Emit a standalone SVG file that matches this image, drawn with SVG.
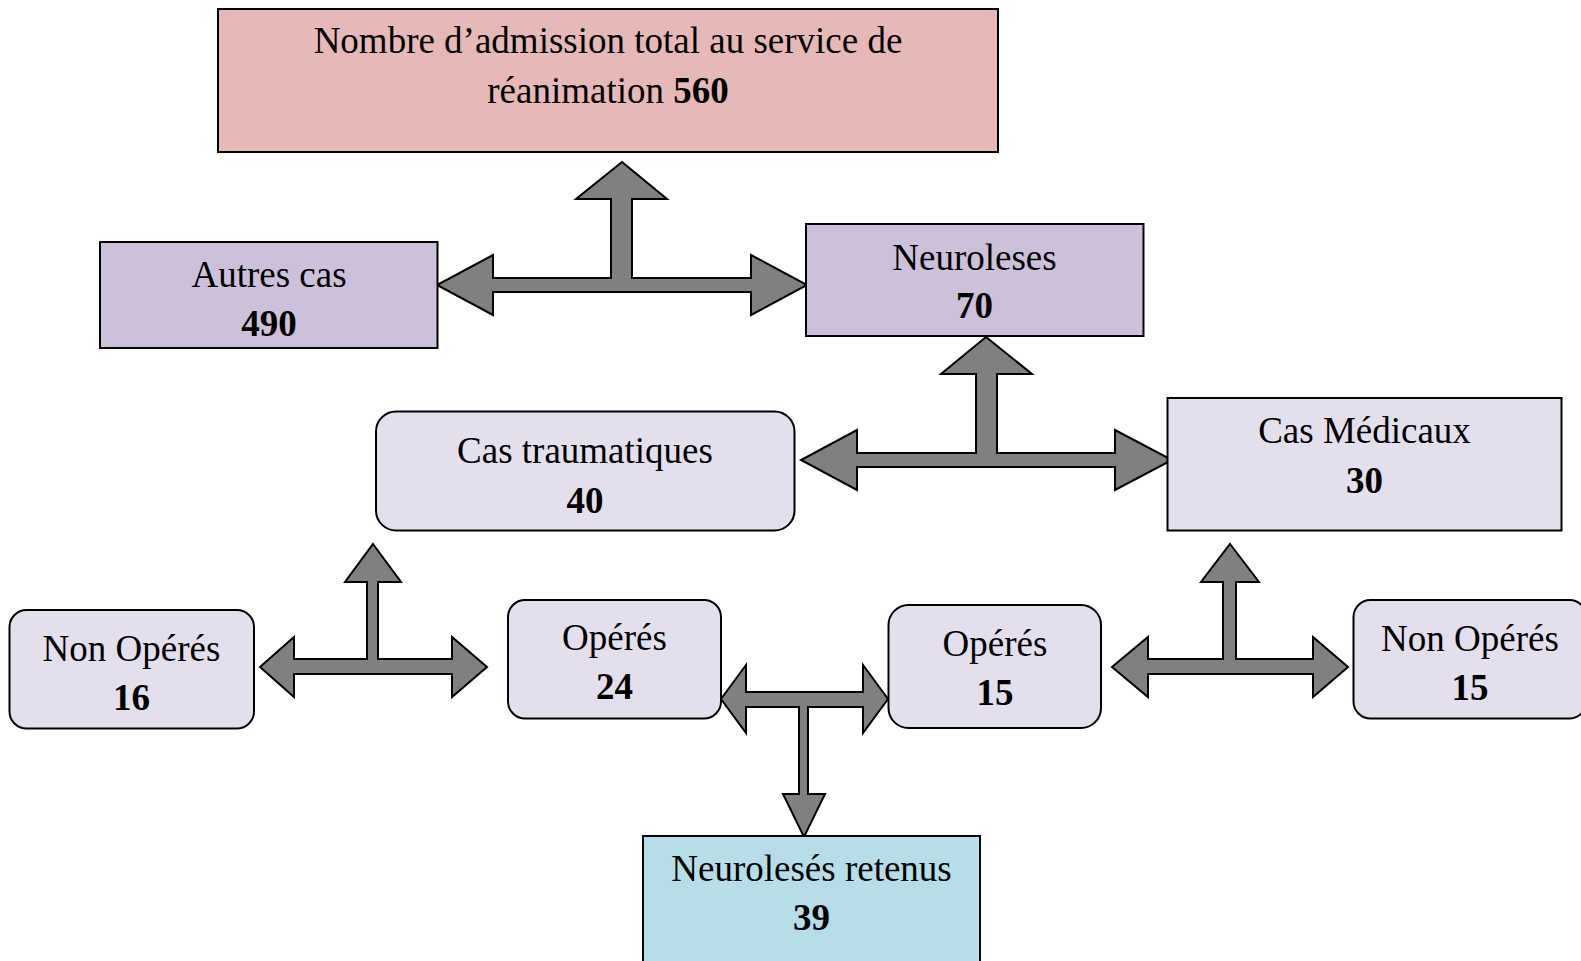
<svg xmlns="http://www.w3.org/2000/svg" width="1581" height="961" viewBox="0 0 1581 961">
<style>
.box{stroke:#000;stroke-width:2}
.pink{fill:#E6B8B8}
.purple{fill:#CCC0DA}
.light{fill:#E4DFEC}
.blue{fill:#B7DDE8}
.arrow{fill:#808080;stroke:#000;stroke-width:2;stroke-linejoin:miter}
text{font-family:"Liberation Serif","Times New Roman",serif;font-size:37px;fill:#000;text-anchor:middle}
.b{font-weight:bold}
</style>
<rect width="1581" height="961" fill="#fff"/>
<g id="connectors">
<polygon class="arrow" points="622,162 667,199 632,199 632,278 751,278 751,255 807,285 751,315 751,292 493,292 493,315 437,285 493,255 493,278 611,278 611,199 576,199"/>
<polygon class="arrow" points="986,337 1032,374 997,374 997,453 1115,453 1115,430 1172,460 1115,490 1115,467 857,467 857,490 801,460 857,430 857,453 976,453 976,374 941,374"/>
<polygon class="arrow" points="373,544 401,582 378,582 378,659 452,659 452,637 487,667 452,697 452,674 294,674 294,697 260,667 294,637 294,659 367,659 367,582 345,582"/>
<polygon class="arrow" points="721,699 746,665 746,692 863,692 863,665 888,699 863,733 863,707 808,707 808,794 825,794 804,837 783,794 799,794 799,707 746,707 746,733"/>
<polygon class="arrow" points="1230,544 1259,582 1236,582 1236,659 1313,659 1313,637 1348,667 1313,697 1313,674 1148,674 1148,697 1112,667 1148,637 1148,659 1223,659 1223,582 1201,582"/>
</g>
<g id="total">
<rect class="box pink" x="218" y="9" width="780" height="143"/>
<text x="608" y="53">Nombre d’admission total au service de</text>
<text x="608" y="103">réanimation <tspan class="b">560</tspan></text>
</g>
<g id="autres">
<rect class="box purple" x="100" y="242" width="337.5" height="106"/>
<text x="269" y="287">Autres cas</text>
<text class="b" x="269" y="336">490</text>
</g>
<g id="neuroleses">
<rect class="box purple" x="806" y="224" width="337.5" height="112"/>
<text x="974.5" y="270">Neuroleses</text>
<text class="b" x="974.5" y="318">70</text>
</g>
<g id="traumatiques">
<rect class="box light" x="376" y="411.5" width="418.5" height="119" rx="20"/>
<text x="585" y="463">Cas traumatiques</text>
<text class="b" x="585" y="512.5">40</text>
</g>
<g id="medicaux">
<rect class="box light" x="1167.5" y="398" width="394" height="132.5"/>
<text x="1364.5" y="443">Cas Médicaux</text>
<text class="b" x="1364.5" y="492.5">30</text>
</g>
<g id="nonoperes16">
<rect class="box light" x="9.5" y="610" width="244.5" height="118.5" rx="17"/>
<text x="131.5" y="661">Non Opérés</text>
<text class="b" x="131.5" y="710">16</text>
</g>
<g id="operes24">
<rect class="box light" x="508" y="600" width="213" height="118.5" rx="17"/>
<text x="614.5" y="649.5">Opérés</text>
<text class="b" x="614.5" y="699">24</text>
</g>
<g id="operes15">
<rect class="box light" x="888.5" y="605" width="212.5" height="123" rx="20"/>
<text x="995" y="656">Opérés</text>
<text class="b" x="995" y="705">15</text>
</g>
<g id="nonoperes15">
<rect class="box light" x="1353.5" y="600" width="233" height="118.5" rx="17"/>
<text x="1470" y="650.5">Non Opérés</text>
<text class="b" x="1470" y="700">15</text>
</g>
<g id="retenus">
<rect class="box blue" x="643" y="836" width="337" height="140"/>
<text x="811.5" y="880.5">Neurolesés retenus</text>
<text class="b" x="811.5" y="930">39</text>
</g>
</svg>
